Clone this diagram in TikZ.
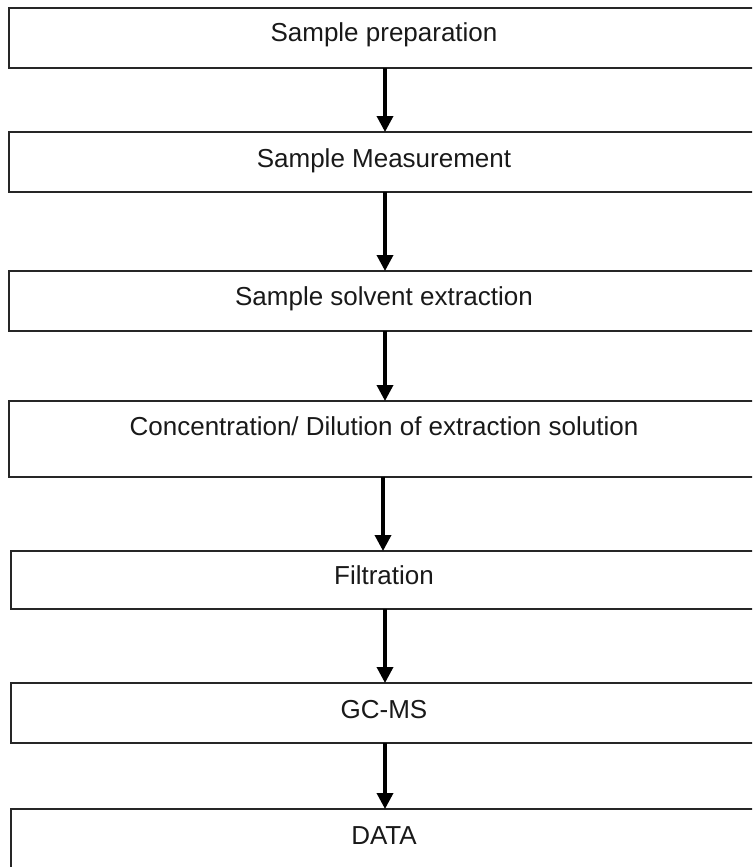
\documentclass[tikz,border=0pt]{standalone}
\usepackage{fontspec}
\setmainfont{Liberation Sans}
\usetikzlibrary{arrows.meta}
\begin{document}
\begin{tikzpicture}[x=1pt,y=-1pt,
  box/.style={draw=black!85, line width=1.6pt, rectangle, outer sep=0pt, inner sep=0pt, minimum width=760pt, anchor=north west},
  lbl/.style={font=\fontsize{26}{29}\selectfont, anchor=base, inner sep=0pt, text=black!90},
  arr/.style={line width=3.5pt, -{Triangle[width=16pt,length=16pt]}}]
\useasboundingbox (0,0) rectangle (752,867);
\clip (0,0) rectangle (752,867);
\node[box, minimum height=60pt] (b1) at (9,8) {};
\node[box, minimum height=60pt] (b2) at (9,132) {};
\node[box, minimum height=60pt] (b3) at (9,271) {};
\node[box, minimum height=76pt] (b4) at (9,401) {};
\node[box, minimum height=58pt, minimum width=748pt] (b5) at (11,551) {};
\node[box, minimum height=60pt, minimum width=748pt] (b6) at (11,683) {};
\node[box, minimum height=80pt, minimum width=748pt] (b7) at (11,809) {};
\node[lbl] (t1) at (384,42) {Sample preparation};
\node[lbl] (t2) at (384,167) {Sample Measurement};
\node[lbl] (t3) at (384,305) {Sample solvent extraction};
\node[lbl] (t4) at (384,435) {Concentration/ Dilution of extraction solution};
\node[lbl] (t5) at (384,584) {Filtration};
\node[lbl] (t6) at (384,718) {GC-MS};
\node[lbl] (t7) at (384,844) {DATA};
\coordinate (a1) at (385,68);
\draw[arr] (a1) -- (a1 |- b2.north);
\coordinate (a2) at (385,192);
\draw[arr] (a2) -- (a2 |- b3.north);
\coordinate (a3) at (385,331);
\draw[arr] (a3) -- (a3 |- b4.north);
\coordinate (a4) at (383,477);
\draw[arr] (a4) -- (a4 |- b5.north);
\coordinate (a5) at (385,609);
\draw[arr] (a5) -- (a5 |- b6.north);
\coordinate (a6) at (385,743);
\draw[arr] (a6) -- (a6 |- b7.north);
\end{tikzpicture}
\end{document}
